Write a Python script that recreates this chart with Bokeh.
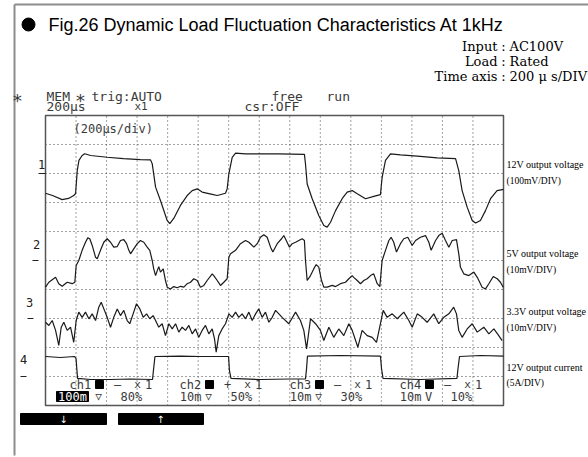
from bokeh.plotting import figure
from bokeh.models import Range1d
from bokeh.core.properties import value
from bokeh.embed import file_html
from bokeh.resources import INLINE

# ---------------- data ----------------
US_PER_DIV = 200
X_DIVS = 15
Y_DIVS = 10

# ch1: 12V output voltage, deviation from its marker in mV (100 mV/div)
CH1_T_US = [0, 46, 109, 151, 185, 197, 208, 219, 240, 257, 295, 404, 511, 622, 688, 699,
            721, 753, 797, 814, 840, 884, 928, 961, 994, 1026, 1092, 1125, 1179, 1190, 1201,
            1223, 1245, 1310, 1528, 1696, 1703, 1714, 1747, 1790, 1823, 1845, 1867, 1900,
            1943, 1976, 2009, 2042, 2096, 2150, 2194, 2205, 2227, 2260, 2325, 2435, 2566,
            2686, 2707, 2729, 2762, 2795, 2817, 2849, 2882, 2915, 2958, 3000]
CH1_MV = [-68, -76, -90, -86, -76, -69, 10, 45, 62, 68, 62, 56, 51, 48, 47, 34,
          -47, -93, -162, -173, -155, -110, -76, -59, -53, -64, -72, -76, -68, -53, -1,
          56, 70, 68, 68, 66, 33, -36, -87, -145, -179, -185, -168, -128,
          -87, -64, -59, -70, -87, -79, -73, -13, 45, 68, 64, 60, 54,
          51, 10, -59, -116, -162, -171, -162, -128, -87, -59, -55]

# ch2: 5V output voltage, mV (10 mV/div)
CH2_T_US = [0, 22, 66, 87, 109, 142, 175, 192, 201, 218,
            240, 262, 277, 290, 306, 328, 339, 360, 382, 404,
            426, 447, 470, 491, 513, 531, 546, 557, 578, 601,
            622, 644, 666, 683, 699, 709, 721, 732, 742, 753,
            771, 786, 797, 819, 840, 863, 884, 906, 928, 950,
            971, 994, 1015, 1037, 1059, 1092, 1102, 1125, 1146, 1168,
            1190, 1201, 1212, 1245, 1277, 1310, 1332, 1365, 1387, 1408,
            1430, 1452, 1474, 1489, 1518, 1546, 1561, 1577, 1598, 1616,
            1638, 1659, 1681, 1696, 1703, 1714, 1736, 1757, 1773, 1790,
            1808, 1823, 1845, 1878, 1900, 1932, 1965, 1987, 2009, 2019,
            2042, 2063, 2085, 2107, 2129, 2150, 2173, 2190, 2205, 2227,
            2249, 2264, 2281, 2299, 2325, 2347, 2373, 2402, 2424, 2456,
            2489, 2511, 2526, 2555, 2576, 2598, 2620, 2642, 2664, 2692,
            2707, 2718, 2740, 2773, 2806, 2828, 2860, 2882, 2904, 2933,
            2959, 2980, 2998]
CH2_MV = [-9.2, -7.5, -5.8, -8.0, -8.9, -7.5, -8.0, -7.5, -1.7, 0.0,
          3.5, 6.3, 7.8, 7.5, 5.2, 1.1, 0.6, 3.5, 6.3, 7.5,
          6.3, 4.6, 4.8, 6.9, 7.2, 5.8, 3.5, 2.3, 4.0, 5.8,
          6.9, 6.3, 4.6, 3.5, 0.0, -2.9, -5.2, -3.5, -2.1, -4.0,
          -2.9, -6.9, -9.2, -9.8, -9.0, -9.4, -8.9, -9.2, -8.0, -7.5,
          -6.3, -6.9, -9.2, -8.6, -6.9, -4.6, -5.2, -6.9, -8.6, -7.5,
          -6.3, 1.1, 2.3, 3.5, 5.8, 6.9, 6.3, 4.6, 5.8, 8.0,
          8.9, 8.0, 4.6, 2.9, 5.8, 7.5, 8.6, 6.9, 4.6, 5.8,
          6.3, 6.9, 7.5, 6.9, 0.0, -6.9, -5.2, -2.9, -1.4, -2.3,
          -6.9, -9.2, -9.2, -8.6, -9.0, -8.0, -7.5, -6.3, -5.2, -5.8,
          -6.9, -8.0, -6.9, -6.3, -5.2, -4.6, -8.0, -9.0, 0.0, 3.5,
          6.9, 8.0, 6.3, 2.9, 5.8, 7.5, 8.0, 5.2, 6.9, 8.0,
          8.6, 6.3, 3.5, 6.9, 8.6, 9.4, 6.9, 4.6, 6.9, 7.2,
          2.3, -2.3, -4.6, -5.2, -4.0, -5.8, -9.2, -9.8, -8.0, -5.5,
          -6.3, -7.5, -9.2]

# ch3: 3.3V output voltage, mV (10 mV/div)
CH3_T_US = [0, 22, 44, 66, 87, 103, 120, 142, 164, 185,
            201, 218, 240, 262, 284, 306, 328, 349, 365, 386,
            404, 426, 447, 470, 491, 513, 535, 552, 574, 596,
            618, 640, 662, 683, 705, 721, 742, 764, 786, 808,
            830, 852, 873, 895, 917, 939, 961, 983, 1004, 1026,
            1048, 1070, 1092, 1107, 1118, 1135, 1157, 1179, 1201, 1223,
            1245, 1266, 1288, 1310, 1332, 1354, 1376, 1397, 1419, 1441,
            1463, 1485, 1507, 1550, 1594, 1638, 1670, 1692, 1710, 1736,
            1769, 1801, 1823, 1856, 1888, 1921, 1954, 1987, 2009, 2046,
            2074, 2107, 2140, 2168, 2194, 2212, 2238, 2271, 2304, 2347,
            2380, 2402, 2435, 2467, 2500, 2543, 2576, 2609, 2642, 2674,
            2692, 2707, 2729, 2762, 2795, 2828, 2871, 2904, 2937, 2969,
            2991]
CH3_MV = [-1.3, -2.4, -0.7, -4.1, -9.3, -3.0, -1.3, -4.1, -3.0, -8.2,
          -0.7, 2.2, 0.4, 2.2, -0.1, 1.6, -0.7, 3.9, 5.6, 2.8,
          0.4, -3.0, 0.4, 3.3, 1.0, 2.8, -0.7, -1.8, 1.6, 5.1,
          3.3, 0.4, 1.6, -0.1, 1.0, -0.7, -3.0, -1.8, -5.9, -1.8,
          -3.6, -1.8, -4.7, -3.0, -4.1, -2.4, -5.3, -3.6, -6.5, -4.1,
          -2.4, -5.3, -3.6, -7.0, -11.6, -5.9, -3.6, -1.8, 1.6, 0.4,
          2.2, 0.4, 1.6, -0.1, 2.2, -0.7, 1.6, 3.3, 0.4, 2.2,
          -1.3, 0.4, 2.8, 0.4, -1.8, 2.2, -0.7, -4.1, -10.5, -0.1,
          -1.8, -4.1, -7.6, -3.0, -6.5, -3.6, -5.9, -1.8, -4.1, -9.9,
          -4.1, -5.9, -6.5, -8.2, -1.8, 2.8, 0.4, 1.6, -0.1, 2.2,
          -0.7, -3.0, 1.6, 0.4, -1.3, 1.6, -1.8, 0.4, 1.6, 3.9,
          1.6, -4.1, -6.5, -3.6, -1.8, -4.7, -3.0, -5.3, -3.6, -5.9,
          -7.6]

# ch4: 12V output current, A (5 A/div)
CH4_T_US = [0, 98, 190, 200, 210, 295, 426, 557, 701, 707, 717, 884, 1015, 1199, 1205,
            1215, 1408, 1605, 1703, 1710, 1716, 1932, 2194, 2201, 2211, 2456, 2695, 2702,
            2712, 2849, 3000]
CH4_A = [3.45, 3.28, 3.45, 3.10, -0.34, -0.52, -0.52, -0.43, -0.52, 1.03, 3.45, 3.53, 3.45,
         3.45, 1.03, -0.34, -0.52, -0.43, -0.43, 1.38, 3.53, 3.62, 3.53, 1.38, -0.34, -0.52,
         -0.34, 1.38, 3.45, 3.62, 3.53]

CH_OFFSET_DIV = [8, 5, 3, 1]
CH_UNITS_PER_DIV = [100, 10, 10, 5]
CH_NAMES = ["1", "2", "3", "4"]
CH_LABELS = ["12V output voltage", "5V output voltage", "3.3V output voltage", "12V output current"]
CH_SCALES = ["(100mV/DIV)", "(10mV/DIV)", "(10mV/DIV)", "(5A/DIV)"]

# scope status line (per channel): name, polarity, probe, V/div, position
ST_NAME = ["ch1", "ch2", "ch3", "ch4"]
ST_SIGN = ["\u2013", "+", "\u2013", "\u2013"]
ST_VDIV = ["100m", "10m", "10m", "10m"]
ST_UNIT = ["\u25bd", "\u25bd", "\u25bd", "V"]
ST_POS = ["80%", "50%", "30%", "10%"]

TITLE = "Fig.26  Dynamic Load Fluctuation Characteristics At 1kHz"
COND_KEYS = ["Input", "Load", "Time axis"]
COND_VALS = ["AC100V", "Rated", "200 \u03bc s/DIV"]

# ---------------- layout (reference pixel coordinates) ----------------
W, H = 588, 457
SCR_L, SCR_R, SCR_T, SCR_B = 45, 503, 115, 405

p = figure(width=W, height=H, output_backend="svg", toolbar_location=None,
           x_range=Range1d(0, W), y_range=Range1d(H, 0),
           x_axis_type=None, y_axis_type=None, min_border=0,
           outline_line_color=None, background_fill_color="white",
           border_fill_color="white")

span_us = US_PER_DIV * X_DIVS
us_per_px = span_us / (SCR_R - SCR_L)
p.extra_x_ranges = {"t": Range1d(-SCR_L * us_per_px, span_us + (W - SCR_R) * us_per_px)}
div_per_px = Y_DIVS / (SCR_B - SCR_T)
p.extra_y_ranges = {"d": Range1d(-(H - SCR_B) * div_per_px, Y_DIVS + SCR_T * div_per_px)}

SCOPE = dict(x_range_name="t", y_range_name="d")
MONO = "DejaVu Sans Mono"
LCD = "#3a3a3a"


def txt(x, y, s, font, size, color="black", align="left", **kw):
    p.text(x=[x], y=[y], text=[s], text_font=value(font), text_font_size=f"{size}px",
           text_color=color, text_align=align, text_baseline="middle", **kw)


# page frame
p.segment(x0=[14, 14], y0=[4, 4], x1=[14, W], y1=[455, 4],
          line_color="#8c8c8c", line_width=2)

# title
p.scatter(x=[28], y=[24], size=13, marker="circle", color="black")
txt(48, 24, TITLE, "Liberation Sans", 18)

# conditions
for i, (k, v) in enumerate(zip(COND_KEYS, COND_VALS)):
    yy = 46 + 15 * i
    txt(497, yy, k, "DejaVu Serif", 13, align="right")
    txt(503, yy, ":", "DejaVu Serif", 13, align="center")
    txt(509, yy, v, "DejaVu Serif", 13)

# scope header
txt(17, 100, "*", MONO, 18, LCD, align="center")
txt(46, 96, "MEM", MONO, 13, LCD)
txt(80, 100, "*", MONO, 18, LCD, align="center")
txt(91, 96, "trig:AUTO", MONO, 13, LCD)
txt(271, 96, "free", MONO, 13, LCD)
txt(326, 96, "run", MONO, 13, LCD)
txt(46, 106, "200\u00b5s", MONO, 13, LCD)
txt(134, 106, "x1", MONO, 11, LCD)
txt(244, 106, "csr:OFF", MONO, 13, LCD)

# scope grid
gx = [US_PER_DIV * k for k in range(1, X_DIVS)]
p.segment(x0=gx, y0=[0] * len(gx), x1=gx, y1=[Y_DIVS] * len(gx),
          line_color="#444", line_dash="1 3", line_width=1, **SCOPE)
gy = list(range(1, Y_DIVS))
p.segment(x0=[0] * len(gy), y0=gy, x1=[span_us] * len(gy), y1=gy,
          line_color="#444", line_dash="1 3", line_width=1, **SCOPE)
p.quad(left=[0], right=[span_us], bottom=[0], top=[Y_DIVS], fill_color=None,
       line_color="#555", line_width=1.5, **SCOPE)

txt(73, 128, "(200\u00b5s/div)", MONO, 12, LCD)

# traces
traces = [(CH1_T_US, CH1_MV), (CH2_T_US, CH2_MV), (CH3_T_US, CH3_MV), (CH4_T_US, CH4_A)]
for (tt, vv), off, upd in zip(traces, CH_OFFSET_DIV, CH_UNITS_PER_DIV):
    p.line(tt, [off + v / upd for v in vv], line_color="#1a1a1a", line_width=1.2, **SCOPE)

# channel markers (left of screen)
mark_x = [(38, 45, 41, 9), (32, 38, 36, 16), (27, 33, 29, 16), (20, 26, 23, 17)]
for (x0, x1, lx, dy), off, name in zip(mark_x, CH_OFFSET_DIV, CH_NAMES):
    p.segment(x0=[x0], y0=[off], x1=[x1], y1=[off], line_color="#222", line_width=1.2,
              y_range_name="d")
    ypix = SCR_B - off / div_per_px - dy
    txt(lx, ypix, name, MONO, 12, "#222", align="center")

# right side labels
lab_y = [(164, 180), (253, 269), (311, 327), (367, 382)]
for (y1, y2), a, b in zip(lab_y, CH_LABELS, CH_SCALES):
    txt(506, y1, a, "Liberation Serif", 10)
    txt(506, y2, b, "Liberation Serif", 9.5)

# status rows at the bottom of the screen (one block every 110 px)
R1, R2 = 384, 396
for i in range(4):
    bx = 110 * i
    txt(69 + bx, R1, ST_NAME[i], MONO, 12, LCD)
    p.quad(left=[95 + bx], right=[103 + bx], top=[380], bottom=[388], color="black")
    txt(117 + bx, R1, ST_SIGN[i], MONO, 12, LCD, align="center")
    txt(137 + bx, R1, "x", MONO, 11, LCD, align="center")
    txt(148 + bx, R1, "1", MONO, 12, LCD, align="center")
    if i == 0:
        p.quad(left=[56], right=[88], top=[391], bottom=[401], color="black")
        txt(72, R2 + 0.5, ST_VDIV[i], MONO, 12, "white", align="center")
    else:
        txt(91 + bx, R2, ST_VDIV[i], MONO, 12, LCD, align="right")
    txt(98 + bx, R2, ST_UNIT[i], MONO, 11 if i < 3 else 12, LCD, align="center")
    txt(120 + bx, R2, ST_POS[i], MONO, 12, LCD)

# soft-key buttons
p.quad(left=[20, 118], right=[106, 203], top=[413, 413], bottom=[424, 424], color="black")
txt(63, 418.5, "\u2193", "DejaVu Sans", 10, "white", align="center")
txt(160, 418.5, "\u2191", "DejaVu Sans", 10, "white", align="center")

open("out.html", "w").write(file_html(p, INLINE))
